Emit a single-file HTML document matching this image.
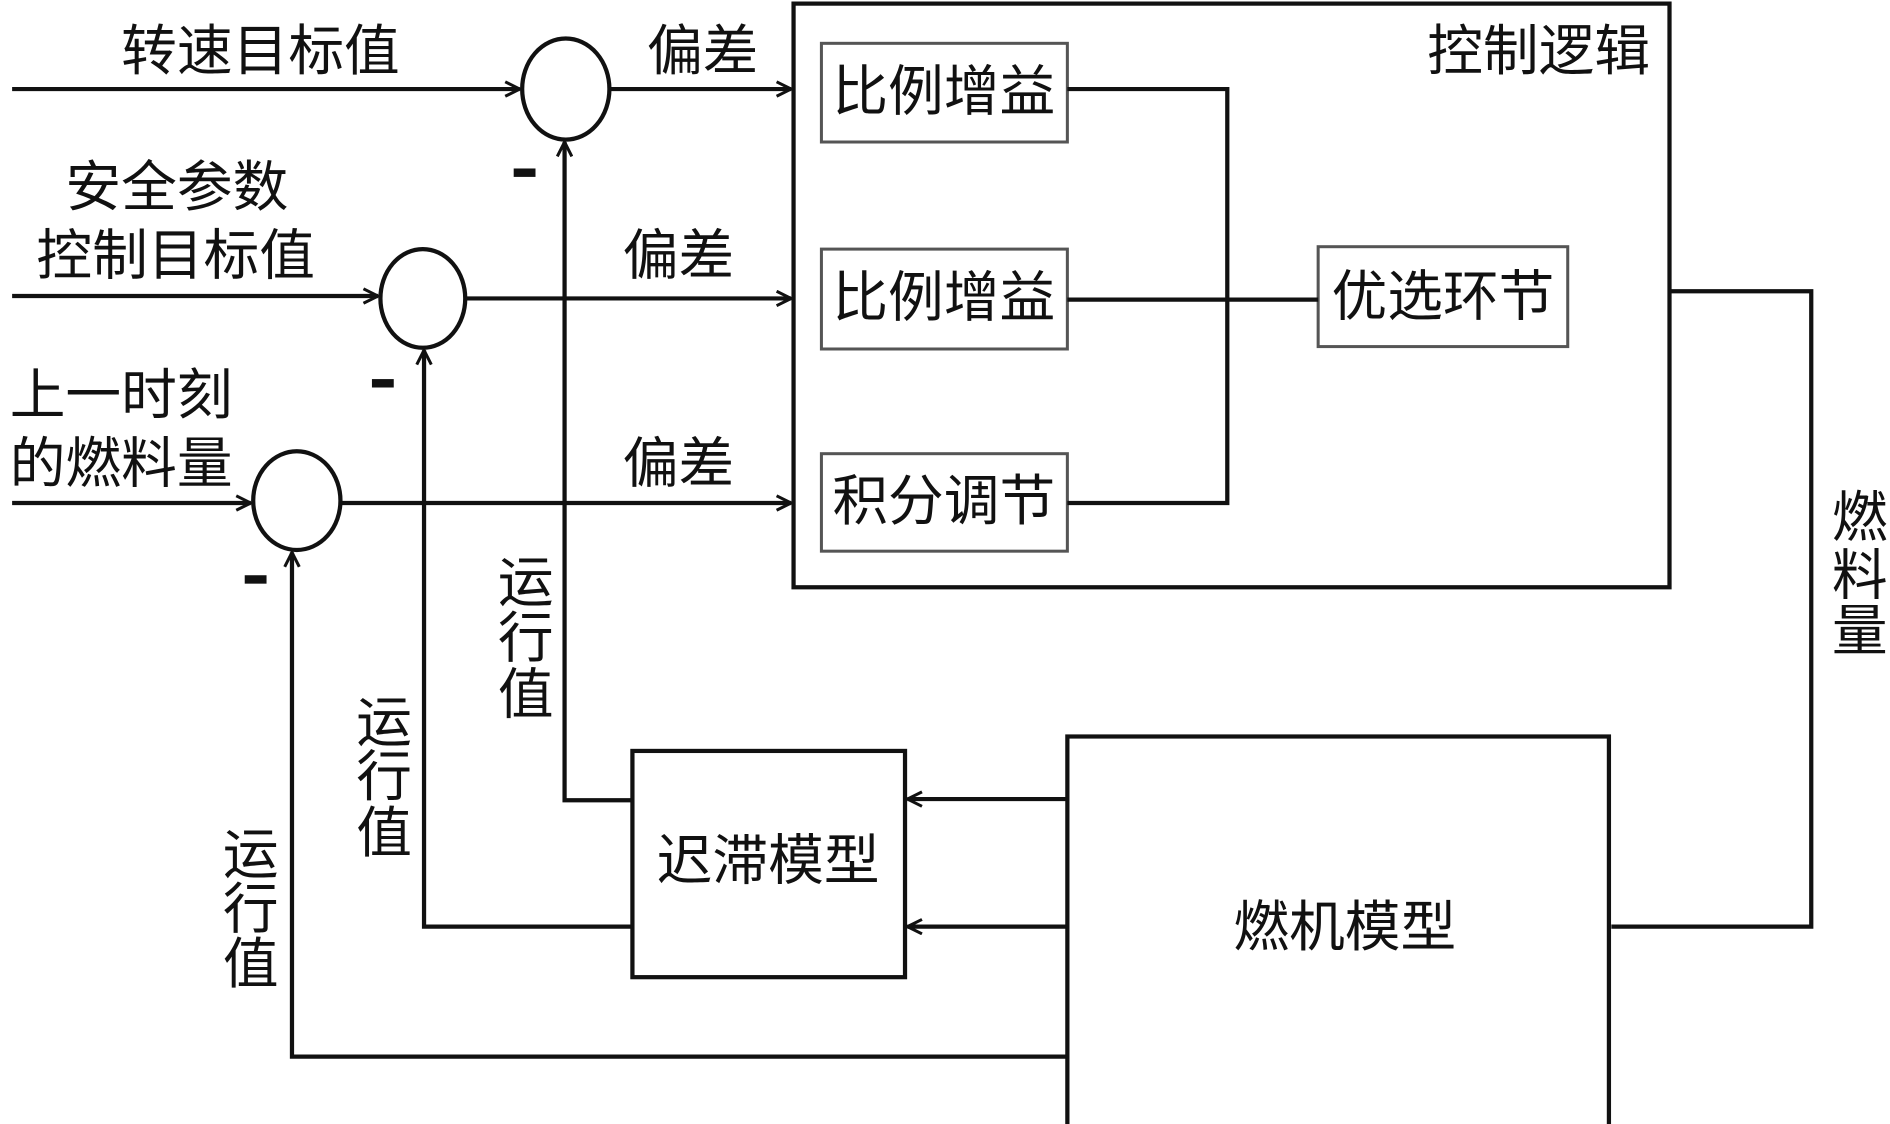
<!DOCTYPE html>
<html><head><meta charset="utf-8"><style>
html,body{margin:0;padding:0;background:#fff;width:1890px;height:1124px;overflow:hidden}
svg{display:block}
text{font-family:"Liberation Sans","Noto Sans CJK SC",sans-serif;font-size:46px;fill:#111}
</style></head><body>
<svg width="1890" height="1124" viewBox="0 0 1560 934" preserveAspectRatio="none" xmlns="http://www.w3.org/2000/svg">
<defs>
<marker id="a" markerWidth="14" markerHeight="14" refX="13" refY="7" orient="auto" markerUnits="userSpaceOnUse">
<path d="M1,1 L13,7 L1,13" fill="none" stroke="#111" stroke-width="2.5"/>
</marker>
</defs>
<g stroke="#111" stroke-width="3.5" fill="none">
<rect x="655" y="3" width="723" height="485"/>
<rect x="678" y="36" width="203" height="82" stroke="#555" stroke-width="2.5"/>
<rect x="678" y="207" width="203" height="83" stroke="#555" stroke-width="2.5"/>
<rect x="678" y="377" width="203" height="81" stroke="#555" stroke-width="2.5"/>
<rect x="1088" y="205" width="206" height="83" stroke="#555" stroke-width="2.5"/>
<polyline points="881,74 1013,74 1013,418 881,418"/>
<line x1="881" y1="249" x2="1088" y2="249"/>
<polyline points="1378,242 1495,242 1495,770 1330,770"/>
<rect x="881" y="612" width="447" height="330"/>
<rect x="522" y="624" width="225" height="188"/>
<line x1="881" y1="664" x2="749" y2="664" marker-end="url(#a)"/>
<line x1="881" y1="770" x2="749" y2="770" marker-end="url(#a)"/>
<ellipse cx="467" cy="74" rx="36" ry="42"/>
<ellipse cx="349" cy="248" rx="35" ry="41"/>
<ellipse cx="245" cy="416" rx="36" ry="41"/>
<line x1="10" y1="74" x2="429" y2="74" marker-end="url(#a)"/>
<line x1="10" y1="246" x2="312" y2="246" marker-end="url(#a)"/>
<line x1="10" y1="418" x2="207" y2="418" marker-end="url(#a)"/>
<line x1="503" y1="74" x2="653" y2="74" marker-end="url(#a)"/>
<line x1="384" y1="248" x2="653" y2="248" marker-end="url(#a)"/>
<line x1="281" y1="418" x2="653" y2="418" marker-end="url(#a)"/>
<polyline points="522,665 466,665 466,118" marker-end="url(#a)"/>
<polyline points="522,770 350,770 350,291" marker-end="url(#a)"/>
<polyline points="881,878 241,878 241,459" marker-end="url(#a)"/>
</g>
<g fill="#111">
<rect x="424" y="140" width="18" height="7"/>
<rect x="307" y="315" width="18" height="7"/>
<rect x="202" y="478" width="18" height="7"/>
</g>
<text x="1270" y="58" text-anchor="middle">控制逻辑</text>
<text x="779" y="92" text-anchor="middle">比例增益</text>
<text x="779" y="263" text-anchor="middle">比例增益</text>
<text x="779" y="432" text-anchor="middle">积分调节</text>
<text x="1191" y="262" text-anchor="middle">优选环节</text>
<text x="634" y="731" text-anchor="middle">迟滞模型</text>
<text x="1110" y="786" text-anchor="middle">燃机模型</text>
<text x="215" y="58" text-anchor="middle">转速目标值</text>
<text x="146" y="171" text-anchor="middle">安全参数</text>
<text x="145" y="228" text-anchor="middle">控制目标值</text>
<text x="100" y="344" text-anchor="middle">上一时刻</text>
<text x="100" y="401" text-anchor="middle">的燃料量</text>
<text x="580" y="58" text-anchor="middle">偏差</text>
<text x="560" y="228" text-anchor="middle">偏差</text>
<text x="560" y="401" text-anchor="middle">偏差</text>
<g text-anchor="middle">
<text x="434" y="500">运</text><text x="434" y="546">行</text><text x="434" y="593">值</text>
<text x="317" y="616">运</text><text x="317" y="661">行</text><text x="317" y="708">值</text>
<text x="207" y="726">运</text><text x="207" y="771">行</text><text x="207" y="817">值</text>
<text x="1535" y="446">燃</text><text x="1535" y="494">料</text><text x="1535" y="540">量</text>
</g>
</svg>
</body></html>
